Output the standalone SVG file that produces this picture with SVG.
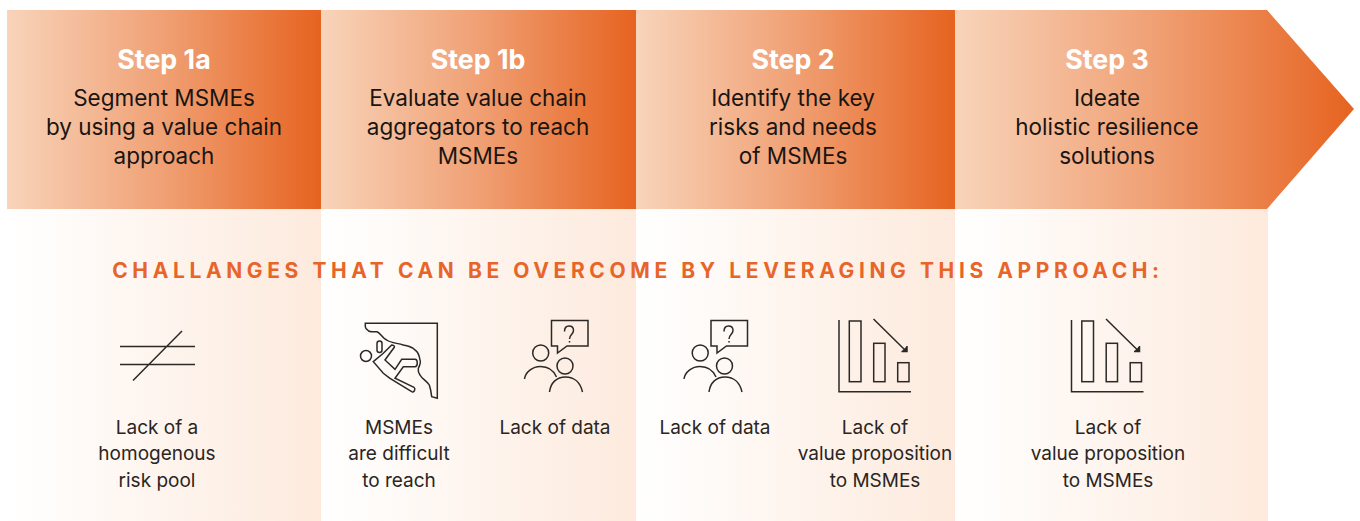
<svg xmlns="http://www.w3.org/2000/svg" xmlns:xlink="http://www.w3.org/1999/xlink" width="1360" height="521" viewBox="0 0 1360 521">
<defs>
<linearGradient id="hd" x1="0" y1="0" x2="1" y2="0"><stop offset="0" stop-color="#f8d4ba"/><stop offset="0.5" stop-color="#f0a074"/><stop offset="1" stop-color="#e66320"/></linearGradient>
<linearGradient id="bd" x1="0" y1="0" x2="1" y2="0"><stop offset="0" stop-color="#ffffff"/><stop offset="1" stop-color="#fdeadd"/></linearGradient>
<g id="people" class="ic">
<path d="M27 0.500H63.500V26H42.500L33 33V26H27Z"/>
<circle cx="16.200" cy="33" r="8"/><circle cx="40.500" cy="46" r="8"/>
<path d="M0 59C1 52 8 46.500 16 46.500C23 46.500 29 50 32 57"/><path d="M25 72C26 63 32 57 41 57C50 57 56 63 58 72"/>
<path d="M40 11.500C40 8 42 6 44.500 6C47.500 6 49 8 49 10.500C49 14 45 14.500 45 19"/><path d="M45 21V22.500"/>
</g>
<g id="bars" class="ic">
<path d="M0 0V71.700H72"/><rect x="10.300" y="1" width="11.700" height="60.700"/><rect x="34.700" y="23.300" width="11.300" height="38.400"/><rect x="58.700" y="42.700" width="11.300" height="19"/>
<path d="M34.500 -1L67 31"/><path d="M62.500 31.500H68V26" class="hd"/>
</g>
</defs>
<style>
text{font-family:"Inter","Liberation Sans",sans-serif;text-anchor:middle}
.s{font-size:26.800px;font-weight:700;fill:#fff}
.h{font-size:22.500px;fill:#1a1512}
.l{font-size:19px;fill:#2a2522}
.t{font-size:21px;font-weight:700;fill:#e8652a;letter-spacing:4.600px}
.ic,.ic *{fill:none;stroke:#2b2826;stroke-width:1.500}
.ic .hd{fill:#2b2826}
</style>
<g id="panels">
<rect x="7" y="209" width="314" height="312" fill="url(#bd)"/>
<rect x="321" y="209" width="315" height="312" fill="url(#bd)"/>
<rect x="636" y="209" width="319" height="312" fill="url(#bd)"/>
<rect x="955" y="209" width="313" height="312" fill="url(#bd)"/>
</g>
<g id="step1a"><rect x="7" y="10" width="314" height="199" fill="url(#hd)"/>
<text class="s" x="164" y="69">Step 1a</text>
<text class="h" x="164" y="106">Segment MSMEs</text><text class="h" x="164" y="135">by using a value chain</text><text class="h" x="164" y="164">approach</text></g>
<g id="step1b"><rect x="321" y="10" width="315" height="199" fill="url(#hd)"/>
<text class="s" x="478" y="69">Step 1b</text>
<text class="h" x="478" y="106">Evaluate value chain</text><text class="h" x="478" y="135">aggregators to reach</text><text class="h" x="478" y="164">MSMEs</text></g>
<g id="step2"><rect x="636" y="10" width="319" height="199" fill="url(#hd)"/>
<text class="s" x="793" y="69">Step 2</text>
<text class="h" x="793" y="106">Identify the key</text><text class="h" x="793" y="135">risks and needs</text><text class="h" x="793" y="164">of MSMEs</text></g>
<g id="step3"><path d="M955 10H1267L1354 109L1267 209H955Z" fill="url(#hd)"/>
<text class="s" x="1107" y="69">Step 3</text>
<text class="h" x="1107" y="106">Ideate</text><text class="h" x="1107" y="135">holistic resilience</text><text class="h" x="1107" y="164">solutions</text></g>
<text class="t" x="638" y="278">CHALLANGES THAT CAN BE OVERCOME BY LEVERAGING THIS APPROACH:</text>
<g id="c1"><g class="ic"><path d="M120 346.500H195M120 364.500H195M133 380.500L182 331"/></g>
<text class="l" x="157" y="434">Lack of a</text><text class="l" x="157" y="460">homogenous</text><text class="l" x="157" y="487">risk pool</text></g>
<g id="c2"><g class="ic"><path d="M365.300 323.300H437.300V398.300L431.700 396.700C431 391 430 387 429.300 385C427 381 422 379 420 375C418 372 418 370 418.300 368.300C420 365 421 362 420 360C419 354 417 351 415 350C411 346 407 346 403.300 345C397 343 391 343 386.700 340C382 338 380 332 376.700 331.700C372 332 369 332 368.300 330.700C366 329 365.300 328 365.300 326.700Z"/>
<circle cx="366" cy="356" r="5.500"/><rect x="377" y="341" width="5" height="11.500" rx="2.500"/>
<path d="M391.700 345C393 345 395 346 394.300 347.300L385 360L395 369.300L401.700 359.300H415C418 359.300 418 366.700 415 366.700H403.300L395 378.300L414 387.300C416 389 414 393 411.700 391.700L390 378.300L383.300 373.300L373.300 361.700L383.300 353.300Z"/></g>
<text class="l" x="399" y="434">MSMEs</text><text class="l" x="399" y="460">are difficult</text><text class="l" x="399" y="487">to reach</text></g>
<g id="c3"><use xlink:href="#people" href="#people" x="524.500" y="320"/><text class="l" x="555" y="434">Lack of data</text></g>
<g id="c4"><use xlink:href="#people" href="#people" x="684" y="320"/><text class="l" x="715" y="434">Lack of data</text></g>
<g id="c5"><use xlink:href="#bars" href="#bars" x="839" y="320"/>
<text class="l" x="875" y="434">Lack of</text><text class="l" x="875" y="460">value proposition</text><text class="l" x="875" y="487">to MSMEs</text></g>
<g id="c6"><use xlink:href="#bars" href="#bars" x="1071.500" y="320"/>
<text class="l" x="1108" y="434">Lack of</text><text class="l" x="1108" y="460">value proposition</text><text class="l" x="1108" y="487">to MSMEs</text></g>
</svg>
